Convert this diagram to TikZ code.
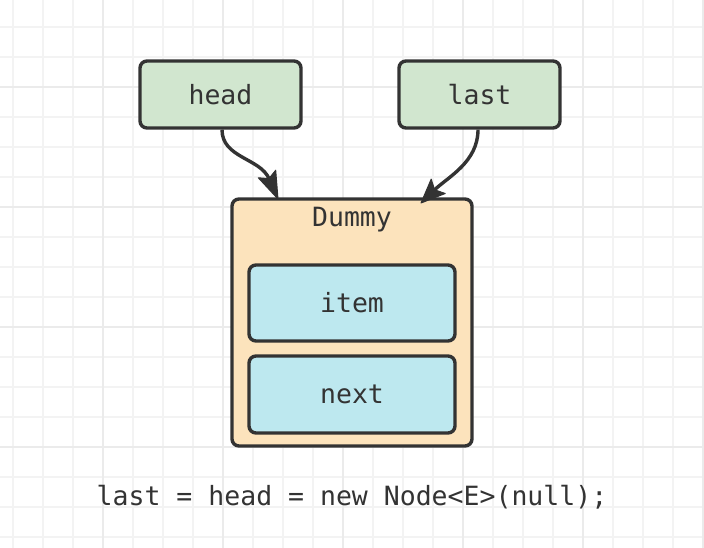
\documentclass[tikz,border=0pt]{standalone}
\usepackage{fontspec}
\setmonofont{DejaVu Sans Mono}
\usetikzlibrary{arrows.meta}
\definecolor{gridminor}{HTML}{F3F3F3}
\definecolor{gridmajor}{HTML}{EBEBEB}
\definecolor{strokec}{HTML}{333333}
\definecolor{greenf}{HTML}{D1E6CF}
\definecolor{orangef}{HTML}{FCE3BC}
\definecolor{bluef}{HTML}{BDE8EF}
\tikzset{
  box/.style={draw=strokec, line width=3.4pt, rounded corners=7pt, inner sep=0pt, text=strokec, font=\ttfamily\fontsize{26.5}{30}\selectfont},
  lbl/.style={text=strokec, font=\ttfamily\fontsize{26.5}{30}\selectfont, inner sep=0pt},
  conn/.style={draw=strokec, line width=3.4pt},
  tiphead/.style={fill=strokec, draw=strokec, line width=1pt, line join=round},
}
\begin{document}
\begin{tikzpicture}[x=1pt,y=-1pt]
\useasboundingbox (0,0) rectangle (704,548);
\fill[white] (0,0) rectangle (704,548);
% grid
\foreach \x in {13,43,...,703} {\draw[gridminor, line width=1.2pt] (\x,0) -- (\x,548);}
\foreach \y in {27,57,...,547} {\draw[gridminor, line width=1.2pt] (0,\y) -- (704,\y);}
\foreach \x in {103,223,343,463,583,703} {\draw[gridmajor, line width=1.6pt] (\x,0) -- (\x,548);}
\foreach \y in {87,207,327,447} {\draw[gridmajor, line width=1.6pt] (0,\y) -- (704,\y);}
% nodes
\node[box, fill=greenf, minimum width=161pt, minimum height=67pt] (head) at (220.5,94.5) {head};
\node[box, fill=greenf, minimum width=161pt, minimum height=67pt] (last) at (479.5,94.5) {last};
\node[box, fill=orangef, minimum width=240pt, minimum height=247pt] (dummy) at (352,322.5) {};
\node[lbl] (dummylbl) at (352,220) {Dummy};
\node[box, fill=bluef, minimum width=206pt, minimum height=76pt] (item) at (352,303) {item};
\node[box, fill=bluef, minimum width=206pt, minimum height=77pt] (next) at (352,394.5) {next};
\node[lbl] (code) at (352,497) {last = head = new Node<E>(null);};
% connectors: head -> dummy
\coordinate (hs) at ([xshift=1.5pt]head.south);
\coordinate (ht) at (278,199);
\coordinate (hn) at (269,178.6);
\coordinate (ha) at (258.3,177.8);
\coordinate (hb) at (275.7,170.2);
\draw[conn] (hs) .. controls (222,158) and (260,158) .. (hn);
\filldraw[tiphead] (ht) -- (ha) -- (hn) -- (hb) -- cycle;
% connectors: last -> dummy
\coordinate (ls) at ([xshift=-1.5pt]last.south);
\coordinate (lt) at (421,203);
\coordinate (ln) at (434.6,189.8);
\coordinate (la) at (445.2,193.5);
\coordinate (lb) at (431.2,179.1);
\draw[conn] (ls) .. controls (478,162) and (448,177) .. (ln);
\filldraw[tiphead] (lt) -- (la) -- (ln) -- (lb) -- cycle;
\end{tikzpicture}
\end{document}
